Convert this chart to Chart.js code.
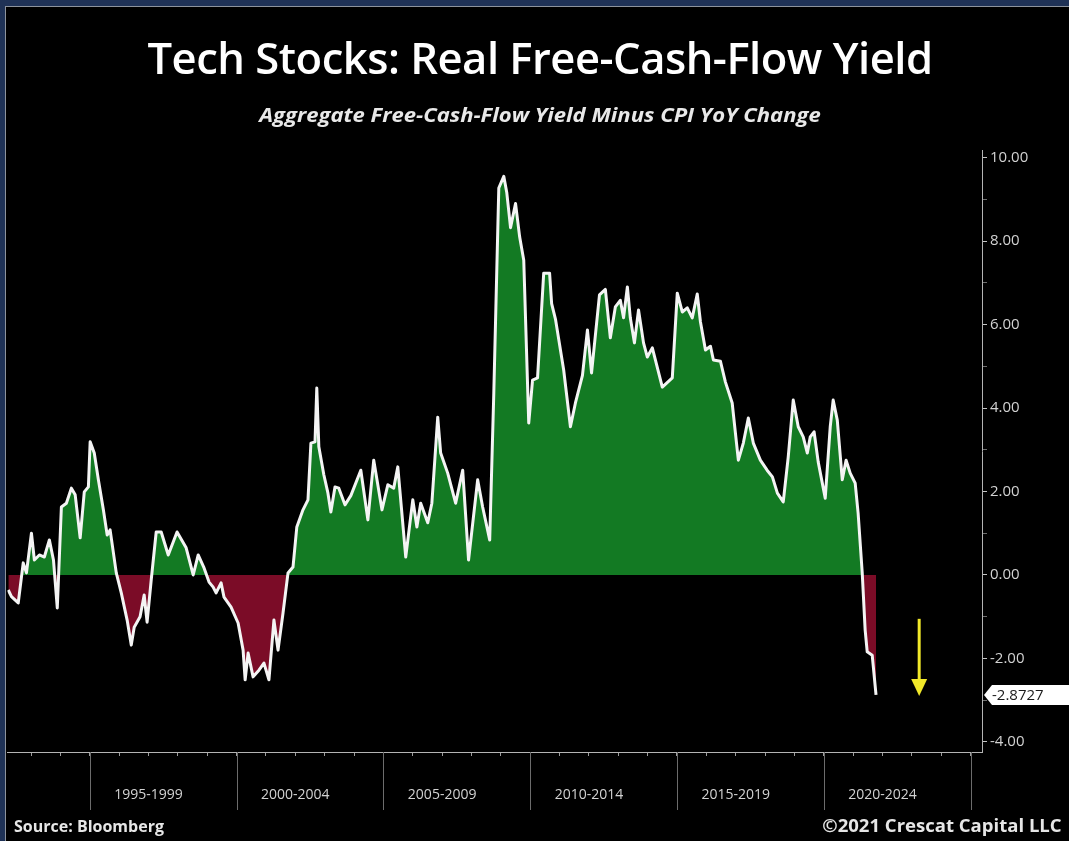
<!DOCTYPE html>
<html>
<head>
<meta charset="utf-8">
<title>Tech Stocks: Real Free-Cash-Flow Yield</title>
<script src="https://cdn.jsdelivr.net/npm/chart.js@4.4.1/dist/chart.umd.min.js"></script>
<style>
  html, body { margin: 0; padding: 0; background: #1f3256; width: 1069px; height: 841px; overflow: hidden; }
  #panel {
    position: absolute; left: 5px; top: 6px; width: 1070px; height: 840px;
    background: #000; border-top: 1px solid #8d939c; border-left: 1px solid #8d939c; box-sizing: border-box;
  }
  #chart { position: absolute; left: 0; top: 0; }
  .txt { position: absolute; color: #fff; white-space: nowrap; font-family: 'Open Sans', sans-serif; }
  #title {
    left: 0; width: 1080px; top: 35px; text-align: center;
    font-size: 44px; font-weight: 600; line-height: 1; letter-spacing: -0.5px;
    transform: scaleX(0.99); transform-origin: 540px 0;
  }
  #subtitle {
    left: 0; width: 1080px; top: 106px; text-align: center;
    font-size: 19px; font-weight: 700; font-style: italic; line-height: 1; color: #e8e8e8;
    transform: scaleX(1.16); transform-origin: 540px 0;
  }
  #source { left: 14px; top: 818px; font-size: 16px; font-weight: 700; line-height: 1; color: #e6e6e6; }
  #credit {
    right: 7px; top: 817px; font-size: 17px; font-weight: 700; line-height: 1; color: #e6e6e6;
    transform: scaleX(1.09); transform-origin: 100% 0;
  }
</style>
</head>
<body>
<div id="panel"></div>
<canvas id="chart" width="1069" height="841"></canvas>
<div class="txt" id="title">Tech Stocks: Real Free-Cash-Flow Yield</div>
<div class="txt" id="subtitle">Aggregate Free-Cash-Flow Yield Minus CPI YoY Change</div>
<div class="txt" id="source">Source: Bloomberg</div>
<div class="txt" id="credit">©2021 Crescat Capital LLC</div>

<script>
// period captions sit under the middle year of each five-year block
const periodLabels = ['1995-1999', '2000-2004', '2005-2009', '2010-2014', '2015-2019', '2020-2024'];
const periodBreaks = [1995, 2000, 2005, 2010, 2015, 2020, 2025];
const yearTicks = [1993, 1994, 1995, 1996, 1997, 1998, 1999, 2000, 2001, 2002, 2003, 2004, 2005, 2006,
  2007, 2008, 2009, 2010, 2011, 2012, 2013, 2014, 2015, 2016, 2017, 2018, 2019, 2020, 2021, 2022, 2023, 2024, 2025];
const yTickValues = [-4, -3, -2, -1, 0, 1, 2, 3, 4, 5, 6, 7, 8, 9, 10];

// observation dates (decimal years), grouped by calendar year
const sampleYears = [
  1992.22, 1992.33, 1992.56, 1992.73, 1992.84,
  1993.01, 1993.11, 1993.28, 1993.45, 1993.62, 1993.76, 1993.89,
  1994.03, 1994.20, 1994.37, 1994.50, 1994.67, 1994.81, 1994.95,
  1995.01, 1995.15, 1995.29, 1995.46, 1995.59, 1995.69, 1995.90,
  1996.07, 1996.27, 1996.41, 1996.51, 1996.71, 1996.85, 1996.95,
  1997.09, 1997.26, 1997.43, 1997.67, 1997.97,
  1998.28, 1998.52, 1998.69, 1998.89,
  1999.06, 1999.20, 1999.30, 1999.47, 1999.57, 1999.81,
  2000.05, 2000.22, 2000.29, 2000.39, 2000.56, 2000.76, 2000.93,
  2001.10, 2001.27, 2001.41, 2001.58, 2001.75, 2001.92,
  2002.05, 2002.26, 2002.43, 2002.53, 2002.67, 2002.73, 2002.80, 2002.97,
  2003.11, 2003.21, 2003.35, 2003.48, 2003.69, 2003.89,
  2004.23, 2004.47, 2004.67, 2004.95,
  2005.15, 2005.35, 2005.49, 2005.76,
  2006.00, 2006.14, 2006.27, 2006.51, 2006.65, 2006.85, 2006.95,
  2007.19, 2007.46, 2007.70, 2007.90,
  2008.21, 2008.38, 2008.62, 2008.76, 2008.93,
  2009.10, 2009.20, 2009.33, 2009.50, 2009.64, 2009.78, 2009.95,
  2010.08, 2010.25, 2010.46, 2010.66, 2010.73, 2010.86,
  2011.14, 2011.37, 2011.54, 2011.78, 2011.95,
  2012.09, 2012.36, 2012.56, 2012.73, 2012.90,
  2013.07, 2013.18, 2013.31, 2013.41, 2013.55, 2013.69, 2013.86, 2013.99,
  2014.16, 2014.50, 2014.84,
  2015.01, 2015.18, 2015.35, 2015.52, 2015.69, 2015.80, 2015.97,
  2016.14, 2016.24, 2016.48, 2016.65, 2016.88,
  2017.09, 2017.26, 2017.43, 2017.60, 2017.84,
  2018.07, 2018.25, 2018.42, 2018.62, 2018.79, 2018.96,
  2019.13, 2019.30, 2019.44, 2019.54, 2019.67, 2019.81,
  2020.05, 2020.22, 2020.32, 2020.46, 2020.63, 2020.76, 2020.90,
  2021.07, 2021.17, 2021.31, 2021.41, 2021.48, 2021.65, 2021.78
];

// free-cash-flow yield minus CPI YoY, percent
const realFcfYield = [
  -0.36, -0.52, -0.67, 0.29, 0.05,
  1.00, 0.36, 0.48, 0.43, 0.84, 0.36, -0.79,
  1.63, 1.72, 2.08, 1.92, 0.89, 1.99, 2.11,
  3.19, 2.92, 2.28, 1.56, 0.96, 1.08, 0.05,
  -0.43, -1.08, -1.68, -1.25, -1.00, -0.48, -1.13,
  -0.12, 1.03, 1.03, 0.48, 1.03,
  0.65, 0.00, 0.48, 0.17,
  -0.17, -0.29, -0.43, -0.19, -0.53, -0.77,
  -1.15, -1.80, -2.51, -1.87, -2.44, -2.28, -2.11,
  -2.51, -1.08, -1.80, -0.91, 0.05, 0.19,
  1.15, 1.56, 1.80, 3.16, 3.19, 4.48, 3.07, 2.40,
  1.96, 1.51, 2.11, 2.08, 1.68, 1.90,
  2.51, 1.32, 2.75, 1.56,
  2.16, 2.08, 2.59, 0.43,
  1.80, 1.15, 1.72, 1.25, 1.72, 3.78, 2.92,
  2.44, 1.72, 2.51, 0.36,
  2.28, 1.63, 0.84, 4.36, 9.27,
  9.55, 9.17, 8.32, 8.90, 8.10, 7.54, 3.64,
  4.67, 4.72, 7.23, 7.23, 6.50, 6.13,
  4.91, 3.55, 4.12, 4.78, 5.87,
  4.84, 6.71, 6.84, 5.68, 6.42,
  6.58, 6.16, 6.90, 6.16, 5.56, 6.35, 5.56, 5.22,
  5.44, 4.50, 4.72,
  6.75, 6.30, 6.40, 6.16, 6.73, 6.06, 5.39,
  5.48, 5.15, 5.12, 4.62, 4.12,
  2.75, 3.16, 3.76, 3.16, 2.75,
  2.51, 2.35, 1.96, 1.75, 2.83, 4.19,
  3.55, 3.31, 2.92, 3.31, 3.43, 2.71,
  1.84, 3.55, 4.19, 3.71, 2.28, 2.75, 2.44,
  2.20, 1.48, 0.05, -1.32, -1.84, -1.92, -2.8727
];

const X_MIN = 1992.19;
const X_MAX = 2025.39;
const Y_MIN = -4.24;
const Y_MAX = 10.18;

const AXIS_COLOR = '#b4b4b4';
const LABEL_COLOR = '#d2d2d2';

// yellow "heading lower" marker to the right of the last print
const ARROW = { x: 2023.25, from: -1.05, to: -2.9, color: '#f1e829' };

const decorations = {
  id: 'decorations',
  afterDraw(chart) {
    const { ctx, chartArea, scales } = chart;
    const xs = scales.x;
    const ys = scales.y;
    ctx.save();

    // long separators between the five-year blocks
    ctx.strokeStyle = '#6c6c6c';
    ctx.lineWidth = 1;
    periodBreaks.forEach((yr) => {
      const px = Math.round(xs.getPixelForValue(yr)) + 0.5;
      ctx.beginPath();
      ctx.moveTo(px, chartArea.bottom);
      ctx.lineTo(px, chartArea.bottom + 58);
      ctx.stroke();
    });

    // arrow
    const ax = xs.getPixelForValue(ARROW.x);
    const ay0 = ys.getPixelForValue(ARROW.from);
    const ay1 = ys.getPixelForValue(ARROW.to);
    ctx.strokeStyle = ARROW.color;
    ctx.fillStyle = ARROW.color;
    ctx.lineWidth = 3;
    ctx.beginPath();
    ctx.moveTo(ax, ay0);
    ctx.lineTo(ax, ay1 - 14);
    ctx.stroke();
    ctx.beginPath();
    ctx.moveTo(ax - 8, ay1 - 17);
    ctx.lineTo(ax + 8, ay1 - 17);
    ctx.lineTo(ax, ay1);
    ctx.closePath();
    ctx.fill();

    // last value tag on the axis
    const last = realFcfYield[realFcfYield.length - 1];
    const ty = ys.getPixelForValue(last);
    const tx = chartArea.right + 2;
    ctx.fillStyle = '#ffffff';
    ctx.beginPath();
    ctx.moveTo(tx, ty);
    ctx.lineTo(tx + 8, ty - 10);
    ctx.lineTo(tx + 100, ty - 10);
    ctx.lineTo(tx + 100, ty + 10);
    ctx.lineTo(tx + 8, ty + 10);
    ctx.closePath();
    ctx.fill();
    ctx.fillStyle = '#1a1a1a';
    ctx.font = '15px "Open Sans"';
    ctx.textBaseline = 'middle';
    ctx.textAlign = 'left';
    ctx.fillText(last.toFixed(4), tx + 8, ty + 1);

    ctx.restore();
  }
};

const points = sampleYears.map((x, i) => ({ x, y: realFcfYield[i] }));

new Chart(document.getElementById('chart'), {
  type: 'line',
  data: {
    datasets: [{
      data: points,
      borderColor: '#f4f4f4',
      borderWidth: 3,
      borderJoinStyle: 'round',
      pointRadius: 0,
      tension: 0,
      fill: { target: 'origin', above: '#137a23', below: '#7b0c27' }
    }]
  },
  options: {
    responsive: false,
    animation: false,
    devicePixelRatio: 1,
    layout: { padding: { left: 6, top: 150, right: 0, bottom: 0 } },
    plugins: {
      legend: { display: false },
      tooltip: { enabled: false }
    },
    scales: {
      x: {
        type: 'linear',
        min: X_MIN,
        max: X_MAX,
        afterBuildTicks: (s) => { s.ticks = yearTicks.map((v) => ({ value: v })); },
        afterFit: (s) => { s.height = 89; },
        grid: { drawOnChartArea: false, tickLength: 4, tickColor: '#9c9c9c' },
        border: { color: AXIS_COLOR, width: 1 },
        ticks: {
          autoSkip: false,
          maxRotation: 0,
          padding: 31,
          color: LABEL_COLOR,
          font: { family: 'Open Sans', size: 14 },
          callback: (v) => {
            const i = (v - 1997) / 5;
            return Number.isInteger(i) && periodLabels[i] ? periodLabels[i] : '';
          }
        }
      },
      y: {
        position: 'right',
        min: Y_MIN,
        max: Y_MAX,
        afterBuildTicks: (s) => { s.ticks = yTickValues.map((v) => ({ value: v })); },
        afterFit: (s) => { s.width = 87; },
        grid: {
          drawOnChartArea: false,
          tickLength: 5,
          tickColor: (c) => (c.tick && c.tick.value % 2 === 0 ? '#c4c4c4' : '#6e6e6e')
        },
        border: { color: AXIS_COLOR, width: 1 },
        ticks: {
          padding: 3,
          color: LABEL_COLOR,
          font: { family: 'Open Sans', size: 15 },
          callback: (v) => (v % 2 === 0 ? v.toFixed(2) : '')
        }
      }
    }
  },
  plugins: [decorations]
});
</script>
</body>
</html>
